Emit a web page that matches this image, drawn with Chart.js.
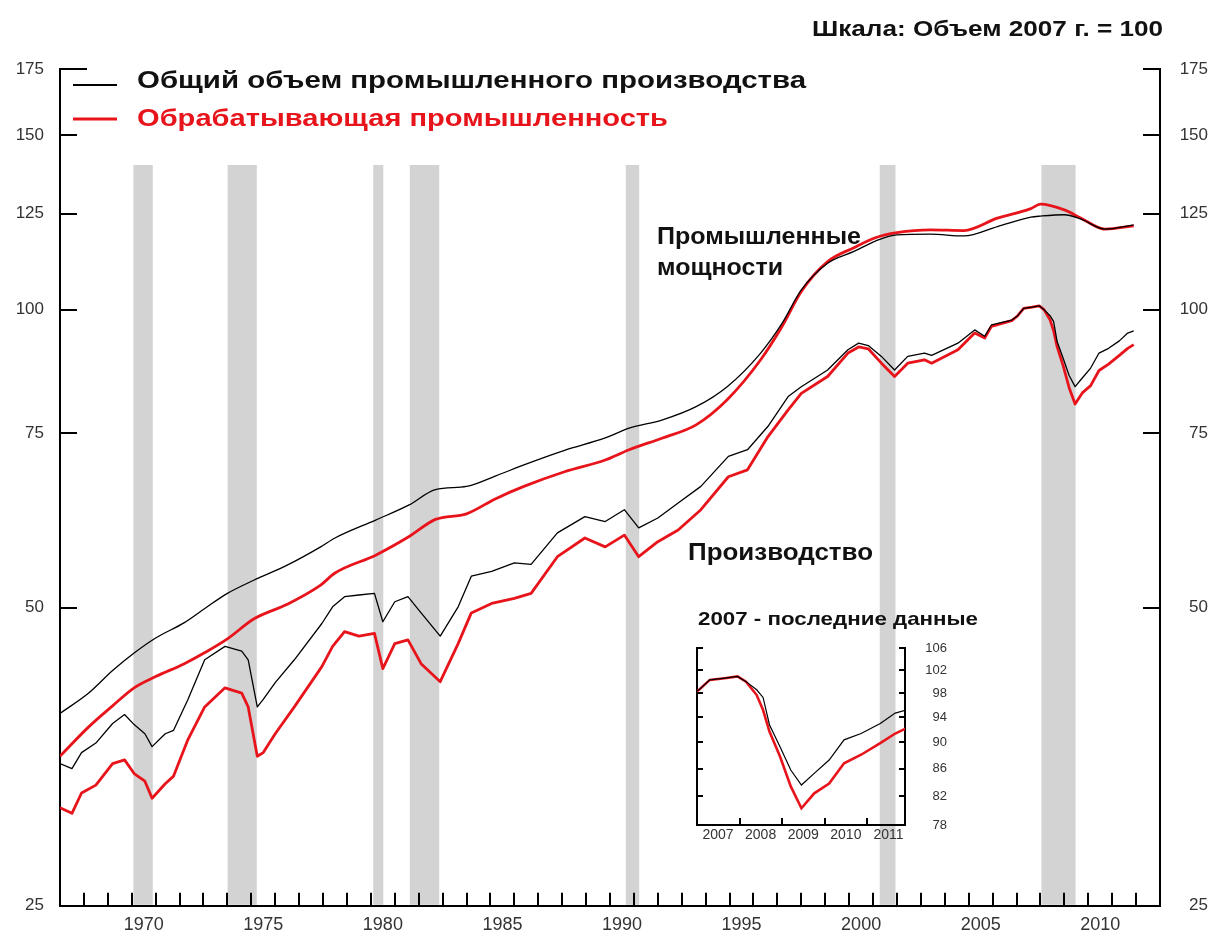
<!DOCTYPE html>
<html>
<head>
<meta charset="utf-8">
<script src="https://cdn.jsdelivr.net/npm/chart.js@4.4.0/dist/chart.umd.min.js"></script>
<style>
  body { margin: 0; background: #fff; }
  #wrap { position: relative; width: 1214px; height: 935px; }
  #wrap canvas { position: absolute; left: 0; top: 0; }
</style>
</head>
<body>
<div id="wrap">
  <canvas id="js-mainChart" width="1214" height="935"></canvas>
  <canvas id="js-insetChart" width="1214" height="935"></canvas>
</div>
<script>
// index, 2007 output = 100
var capYears = [1967.0, 1968.2, 1969.2, 1970.1, 1971.0, 1972.2, 1973.1, 1974.0, 1975.1, 1976.5,
  1977.9, 1978.5, 1980.2, 1981.6, 1982.7, 1984.0, 1985.2, 1986.4, 1988.1, 1989.8,
  1990.8, 1992.2, 1993.6, 1994.9, 1996.3, 1997.2, 1998.0, 1999.1, 2000.2, 2001.1,
  2002.0, 2003.4, 2004.8, 2006.2, 2007.6, 2008.0, 2009.0, 2009.7, 2010.7, 2011.9];
var capTotal = [39.1, 41.0, 43.2, 45.0, 46.6, 48.3, 50.0, 51.7, 53.3, 55.2,
  57.6, 58.8, 61.3, 63.5, 65.8, 66.3, 67.9, 69.7, 72.1, 74.2,
  75.9, 77.4, 79.8, 83.6, 90.4, 96.9, 104.7, 111.4, 114.5, 117.3,
  119.0, 119.2, 118.7, 121.3, 124.0, 124.3, 124.7, 123.4, 120.6, 121.8];
var capMfg = [35.4, 37.9, 39.8, 41.5, 42.6, 43.9, 45.1, 46.5, 48.7, 50.4,
  52.7, 54.2, 56.5, 59.0, 61.4, 62.2, 64.4, 66.3, 68.6, 70.5,
  72.2, 74.2, 76.5, 81.1, 89.0, 96.2, 104.3, 111.8, 115.5, 118.2,
  119.6, 120.4, 120.2, 123.7, 126.5, 127.8, 126.1, 123.7, 120.6, 121.5];

var prodYears = [1967.0, 1967.5, 1967.9, 1968.5, 1969.2, 1969.7, 1970.1, 1970.55, 1970.85, 1971.4,
  1971.75, 1972.35, 1973.05, 1973.9, 1974.6, 1974.87, 1975.25, 1975.5, 1976.0, 1976.8,
  1977.95, 1978.4, 1978.9, 1979.5, 1980.15, 1980.5, 1981.0, 1981.55, 1982.1, 1982.9,
  1983.65, 1984.2, 1985.05, 1986.0, 1986.7, 1987.8, 1988.95, 1989.8, 1990.6, 1991.2,
  1992.0, 1992.85, 1993.8, 1994.95, 1995.75, 1996.6, 1997.45, 1998.0, 1999.1, 1999.95,
  2000.4, 2000.8, 2001.35, 2001.9, 2002.45, 2003.15, 2003.45, 2004.55, 2005.25, 2005.67,
  2005.95, 2006.8, 2007.05, 2007.3, 2007.65, 2007.95, 2008.15, 2008.4, 2008.55, 2008.7,
  2008.95, 2009.2, 2009.45, 2009.75, 2010.1, 2010.45, 2010.85, 2011.3, 2011.65, 2011.9];
var prodTotal = [34.8, 34.4, 35.7, 36.5, 38.2, 39.0, 38.1, 37.3, 36.2, 37.3,
  37.6, 40.4, 44.3, 45.7, 45.2, 44.3, 39.7, 40.4, 42.0, 44.3,
  48.2, 50.1, 51.3, 51.5, 51.7, 48.4, 50.7, 51.3, 49.4, 46.8,
  50.1, 53.8, 54.4, 55.5, 55.3, 59.5, 61.8, 61.1, 62.8, 60.2,
  61.6, 63.8, 66.3, 71.1, 72.2, 76.2, 81.7, 83.6, 86.9, 91.1,
  92.5, 92.0, 89.7, 86.9, 89.7, 90.4, 89.9, 92.5, 95.4, 94.0,
  96.5, 97.6, 98.6, 100.3, 100.6, 100.9, 100.0, 98.6, 97.3, 92.8,
  89.3, 85.8, 83.6, 85.3, 87.3, 90.4, 91.4, 93.0, 94.7, 95.2];
var prodMfg = [31.4, 31.0, 32.5, 33.1, 34.8, 35.1, 34.0, 33.4, 32.1, 33.2,
  33.8, 36.8, 39.7, 41.5, 41.0, 39.7, 35.4, 35.7, 37.3, 39.7,
  43.6, 45.7, 47.3, 46.8, 47.1, 43.4, 46.0, 46.4, 43.9, 42.1,
  46.0, 49.4, 50.5, 51.1, 51.7, 56.3, 58.8, 57.6, 59.2, 56.3,
  58.3, 59.9, 62.8, 67.8, 68.9, 74.4, 79.2, 82.3, 85.6, 90.4,
  91.7, 91.3, 88.3, 85.6, 88.3, 89.0, 88.3, 91.1, 94.7, 93.6,
  96.2, 97.5, 98.6, 100.3, 100.6, 100.9, 100.0, 97.7, 95.2, 91.7,
  87.8, 83.4, 80.3, 82.4, 83.8, 86.8, 88.1, 89.9, 91.4, 92.2];

var recessionStart = [1970.07, 1974.01, 1980.10, 1981.63, 1990.66, 2001.28, 2008.04];
var recessionEnd   = [1970.88, 1975.23, 1980.52, 1982.86, 1991.22, 2001.94, 2009.47];
var shadeTop = 140;

var yTicks = [25, 50, 75, 100, 125, 150, 175];
var insetTicks = [78, 82, 86, 90, 94, 98, 102, 106];

var FONT = '"Liberation Sans", Arial, sans-serif';
var RED = '#e8141b';
Chart.defaults.font.family = FONT;

function toPoints(xs, ys, from) {
  var out = [];
  for (var i = 0; i < xs.length; i++) {
    if (from === undefined || xs[i] >= from) out.push({x: xs[i], y: ys[i]});
  }
  return out;
}

// grey recession bars
var recessionPlugin = {
  id: 'recessions',
  beforeDatasetsDraw: function(chart) {
    var x = chart.scales.x, y = chart.scales.y, ctx = chart.ctx;
    var top = y.getPixelForValue(shadeTop), bottom = chart.chartArea.bottom - 1;
    ctx.save();
    ctx.fillStyle = '#d3d3d3';
    for (var i = 0; i < recessionStart.length; i++) {
      var a = x.getPixelForValue(recessionStart[i]), b = x.getPixelForValue(recessionEnd[i]);
      ctx.fillRect(a, top, b - a, bottom - top);
    }
    ctx.restore();
  }
};

// short tick marks pointing into the plot
var innerTicks = {
  id: 'innerTicks',
  afterDraw: function(chart, args, opts) {
    var ctx = chart.ctx, area = chart.chartArea, x = chart.scales.x, y = chart.scales.y;
    ctx.save();
    ctx.strokeStyle = '#000';
    ctx.lineWidth = opts.width;
    ctx.beginPath();
    x.ticks.forEach(function(t) {
      if (t.value <= x.min || t.value >= x.max) return;
      var px = Math.round(x.getPixelForValue(t.value));
      ctx.moveTo(px, area.bottom);
      ctx.lineTo(px, area.bottom - opts.xLen);
    });
    y.ticks.forEach(function(t) {
      if (t.value <= y.min) return;
      var py = Math.round(y.getPixelForValue(t.value));
      var left = (t.value >= y.max && opts.topLen) ? opts.topLen : opts.yLen;
      ctx.moveTo(area.left, py);
      ctx.lineTo(area.left + left, py);
      ctx.moveTo(area.right, py);
      ctx.lineTo(area.right - opts.yLen, py);
    });
    ctx.stroke();
    ctx.restore();
  }
};

function fitText(ctx, text, left, right, cy, size, color) {
  ctx.font = 'bold ' + size + 'px ' + FONT;
  var w = ctx.measureText(text).width;
  ctx.save();
  ctx.translate(left, cy);
  ctx.scale((right - left) / w, 1);
  ctx.fillStyle = color;
  ctx.textBaseline = 'middle';
  ctx.textAlign = 'left';
  ctx.fillText(text, 0, 0);
  ctx.restore();
}

var labelsPlugin = {
  id: 'labels',
  afterDraw: function(chart) {
    var ctx = chart.ctx;
    fitText(ctx, 'Шкала: Объем 2007 г. = 100', 812, 1163, 30, 22, '#111');

    ctx.save();
    ctx.strokeStyle = '#000';
    ctx.lineWidth = 1.8;
    ctx.beginPath(); ctx.moveTo(73, 85); ctx.lineTo(117, 85); ctx.stroke();
    ctx.strokeStyle = RED;
    ctx.lineWidth = 3;
    ctx.beginPath(); ctx.moveTo(73, 119); ctx.lineTo(117, 119); ctx.stroke();
    ctx.restore();
    fitText(ctx, 'Общий объем промышленного производства', 137, 806, 82, 23, '#111');
    fitText(ctx, 'Обрабатывающая промышленность', 137, 668, 120, 23, RED);

    fitText(ctx, 'Промышленные', 657, 861, 237, 24, '#111');
    fitText(ctx, 'мощности', 657, 783, 268, 24, '#111');
    fitText(ctx, 'Производство', 688, 873, 553, 24, '#111');
    fitText(ctx, '2007 - последние данные', 698, 978, 620, 19, '#111');
  }
};

function logTicks(list) {
  return function(scale) {
    scale.ticks = list.map(function(v) { return {value: v}; });
  };
}

var mainChart = new Chart(document.getElementById('js-mainChart'), {
  type: 'line',
  data: {
    datasets: [
      { data: toPoints(capYears, capTotal), borderColor: '#000', borderWidth: 1.3, cubicInterpolationMode: 'monotone' },
      { data: toPoints(prodYears, prodTotal), borderColor: '#000', borderWidth: 1.3 },
      { data: toPoints(capYears, capMfg), borderColor: RED, borderWidth: 2.8, cubicInterpolationMode: 'monotone' },
      { data: toPoints(prodYears, prodMfg), borderColor: RED, borderWidth: 2.8 }
    ]
  },
  options: {
    responsive: false,
    animation: false,
    devicePixelRatio: 1,
    elements: { point: { radius: 0 }, line: { borderJoinStyle: 'round' } },
    layout: { padding: { top: 69, left: 0, right: 6, bottom: 0 } },
    plugins: {
      legend: { display: false },
      tooltip: { enabled: false },
      innerTicks: { width: 2, xLen: 13, yLen: 17, topLen: 27 }
    },
    scales: {
      x: {
        type: 'linear', min: 1967, max: 2013,
        grid: { drawOnChartArea: false, drawTicks: false },
        border: { color: '#000', width: 2 },
        ticks: {
          stepSize: 1, autoSkip: false, maxRotation: 0, padding: 8, labelOffset: 12,
          color: '#333', font: { size: 18 },
          callback: function(v) { return v % 5 === 0 ? String(v) : ''; }
        },
        afterFit: function(s) { s.height = 29; }
      },
      y: {
        type: 'logarithmic', position: 'left', min: 25, max: 175,
        grid: { drawOnChartArea: false, drawTicks: false },
        border: { color: '#000', width: 2 },
        ticks: { padding: 16, color: '#333', font: { size: 17 }, callback: function(v) { return String(v); } },
        afterBuildTicks: logTicks(yTicks),
        afterFit: function(s) { s.width = 60; }
      },
      y2: {
        type: 'logarithmic', position: 'right', min: 25, max: 175,
        grid: { drawOnChartArea: false, drawTicks: false },
        border: { color: '#000', width: 2 },
        ticks: { padding: 19, crossAlign: 'far', color: '#333', font: { size: 17 }, callback: function(v) { return String(v); } },
        afterBuildTicks: logTicks(yTicks),
        afterFit: function(s) { s.width = 48; }
      }
    }
  },
  plugins: [recessionPlugin, innerTicks, labelsPlugin]
});

// inset: 2007 - latest
var insetChart = new Chart(document.getElementById('js-insetChart'), {
  type: 'line',
  data: {
    datasets: [
      { data: toPoints(prodYears, prodTotal, 2006.5), borderColor: '#000', borderWidth: 1.2 },
      { data: toPoints(prodYears, prodMfg, 2006.5), borderColor: RED, borderWidth: 2.6 }
    ]
  },
  options: {
    responsive: false,
    animation: false,
    devicePixelRatio: 1,
    elements: { point: { radius: 0 } },
    layout: { padding: { top: 648, left: 0, right: 267, bottom: 0 } },
    plugins: {
      legend: { display: false },
      tooltip: { enabled: false },
      innerTicks: { width: 2, xLen: 7, yLen: 6 }
    },
    scales: {
      x: {
        type: 'linear', min: 2007, max: 2011.88,
        grid: { drawOnChartArea: false, drawTicks: false },
        border: { color: '#000', width: 2 },
        ticks: {
          stepSize: 1, includeBounds: false, autoSkip: false, maxRotation: 0, padding: 2, labelOffset: 21,
          color: '#333', font: { size: 14 },
          callback: function(v) { return String(v); }
        },
        afterFit: function(s) { s.height = 110; }
      },
      y: {
        type: 'logarithmic', position: 'left', min: 78, max: 106,
        grid: { drawOnChartArea: false, drawTicks: false },
        border: { color: '#000', width: 2 },
        ticks: { display: false },
        afterBuildTicks: logTicks(insetTicks),
        afterFit: function(s) { s.width = 697; }
      },
      y2: {
        type: 'logarithmic', position: 'right', min: 78, max: 106,
        grid: { drawOnChartArea: false, drawTicks: false },
        border: { color: '#000', width: 2 },
        ticks: { padding: 20, crossAlign: 'far', color: '#333', font: { size: 13 }, callback: function(v) { return String(v); } },
        afterBuildTicks: logTicks(insetTicks),
        afterFit: function(s) { s.width = 42; }
      }
    }
  },
  plugins: [innerTicks]
});
</script>
</body>
</html>
